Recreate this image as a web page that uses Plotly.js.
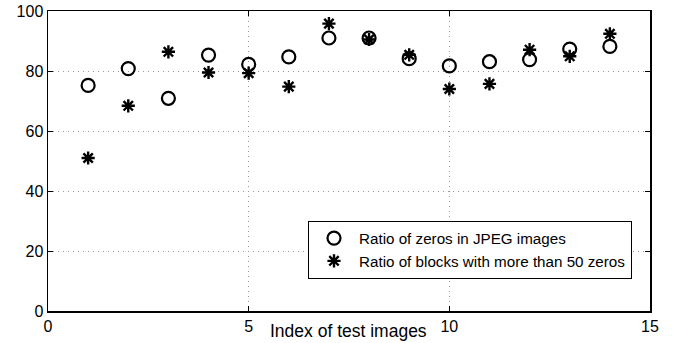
<!DOCTYPE html>
<html>
<head>
<meta charset="utf-8">
<script src="https://cdn.plot.ly/plotly-3.0.1.min.js"></script>
<style>html,body{margin:0;padding:0;background:#fff;}#chart{width:674px;height:343px;}</style>
</head>
<body>
<div id="chart"></div>
<script>
const imageIndex = [1,2,3,4,5,6,7,8,9,10,11,12,13,14];
const ratioZeros = [75.2,80.8,70.9,85.3,82.2,84.7,91.0,91.0,84.1,81.7,83.1,83.8,87.3,88.2];
const ratioBlocks = [51.0,68.4,86.4,79.5,79.3,74.8,95.8,90.5,85.4,74.0,75.7,87.1,84.9,92.4];
const xTicks = [0,5,10,15];
const yTicks = [0,20,40,60,80,100];

const font = {family: 'Liberation Sans, Arial, sans-serif', color: '#000'};

const traces = [
  {x: imageIndex, y: ratioZeros, mode: 'markers', type: 'scatter',
   name: 'Ratio of zeros in JPEG images',
   marker: {symbol: 'circle-open', size: 13, color: '#000', line: {width: 2.2, color: '#000'}}},
  {x: imageIndex, y: ratioBlocks, mode: 'markers', type: 'scatter',
   name: 'Ratio of blocks with more than 50 zeros',
   marker: {symbol: 'asterisk-open', size: 11, color: '#000', line: {width: 2.4, color: '#000'}}}
];

const axisCommon = {
  showline: true, linecolor: '#000', linewidth: 1.5, mirror: 'ticks',
  ticks: 'inside', ticklen: 5, tickwidth: 1, tickcolor: '#000',
  showgrid: true, gridcolor: '#999', griddash: '1px,4px', gridwidth: 1,
  zeroline: false, tickfont: Object.assign({size: 16}, font)
};

const layout = {
  width: 674, height: 343,
  margin: {l: 48, r: 24, t: 11, b: 32},
  paper_bgcolor: '#fff', plot_bgcolor: '#fff',
  showlegend: true,
  xaxis: Object.assign({}, axisCommon, {range: [0, 15], tickvals: xTicks, ticktext: xTicks.map(String)}),
  yaxis: Object.assign({}, axisCommon, {range: [0, 100], tickvals: yTicks, ticktext: yTicks.map(String)}),
  legend: {
    x: (308 - 48) / 602, y: (311.3 - 221) / 300, xanchor: 'left', yanchor: 'top',
    bordercolor: '#000', borderwidth: 1, bgcolor: '#fff',
    font: Object.assign({size: 15.2}, font), itemwidth: 40, tracegroupgap: 0
  },
  annotations: [{
    text: 'Index of test images', xref: 'paper', yref: 'paper',
    x: (348 - 48) / 602, y: 0, yshift: -20, xanchor: 'center', yanchor: 'middle',
    showarrow: false, font: Object.assign({size: 17.5}, font)
  }]
};

Plotly.newPlot('chart', traces, layout, {displayModeBar: false, staticPlot: true});
</script>
</body>
</html>
